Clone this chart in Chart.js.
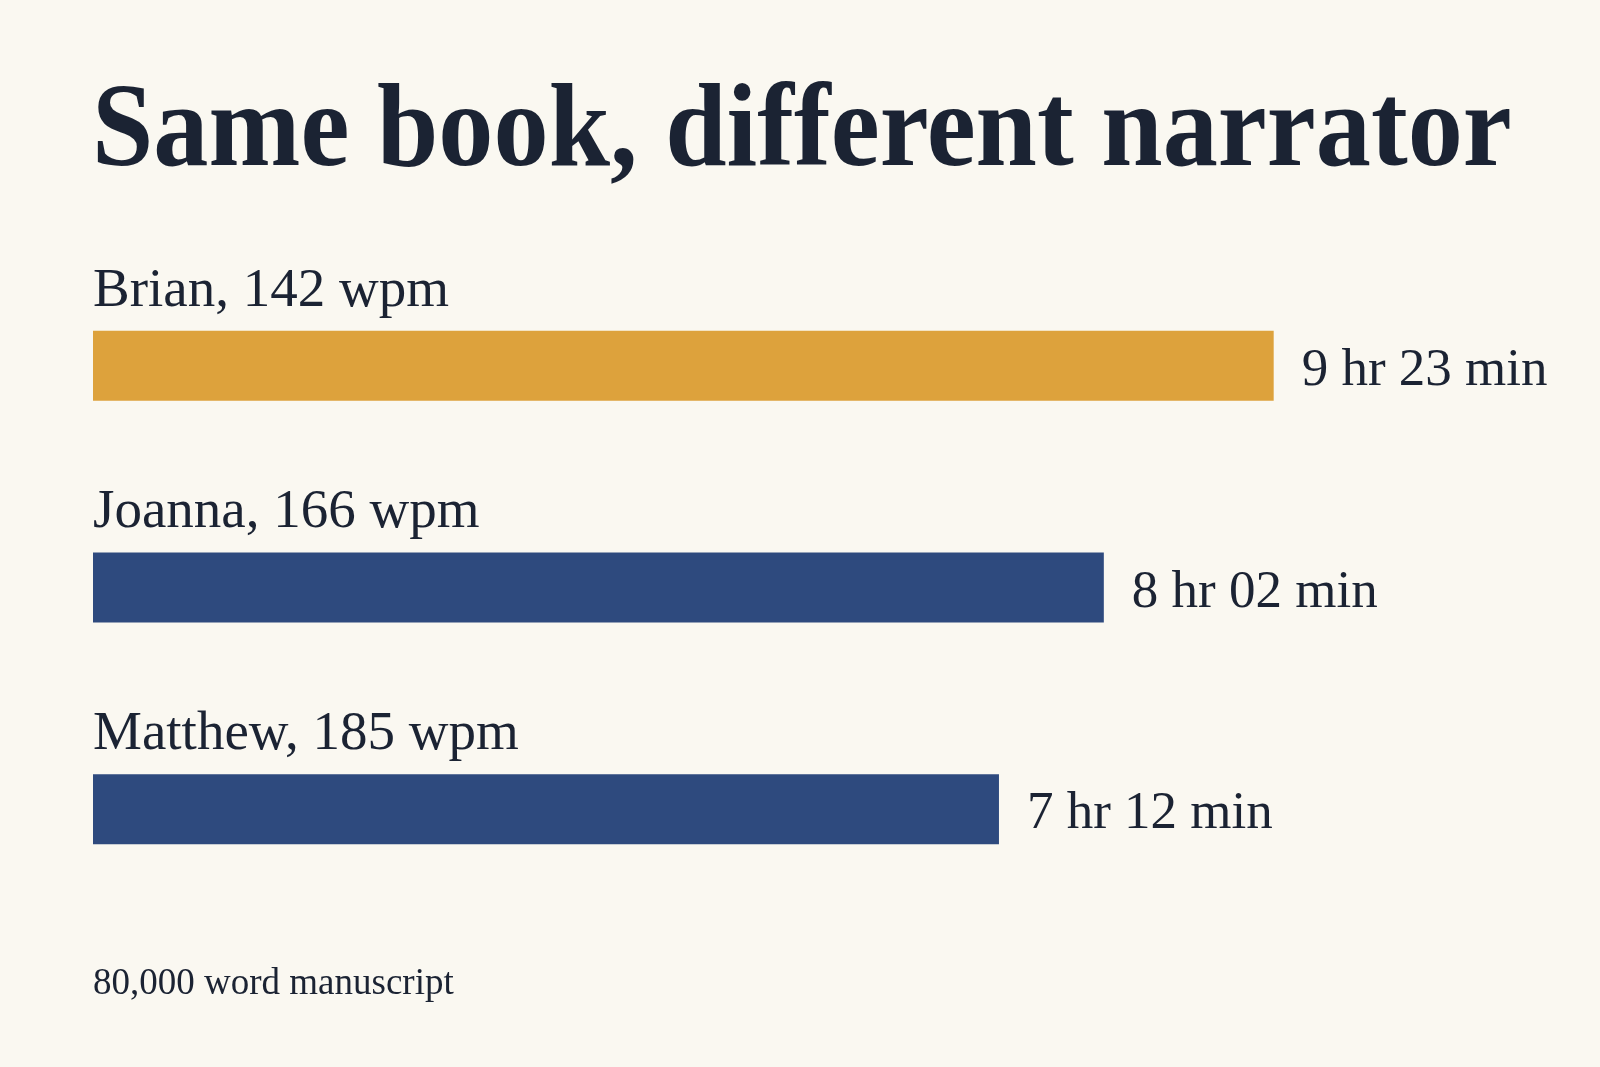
<!DOCTYPE html>
<html>
<head>
<meta charset="utf-8">
<script src="https://cdn.jsdelivr.net/npm/chart.js@4/dist/chart.umd.min.js"></script>
<style>
  html, body { margin: 0; padding: 0; background: #FAF8F1; }
  #wrap { position: relative; width: 1600px; height: 1067px; }
  canvas { display: block; }
</style>
</head>
<body>
<div id="wrap"><canvas id="c" width="1600" height="1067"></canvas></div>
<script>
// ---- data ----
const titleText = "Same book, different narrator";
const narrators = ["Brian", "Joanna", "Matthew"];
const wpm = [142, 166, 185];
const minutes = [563, 482, 432];           // 9h23, 8h02, 7h12
const durationLabels = ["9 hr 23 min", "8 hr 02 min", "7 hr 12 min"];
const footnote = "80,000 word manuscript";

const categoryLabels = narrators.map((n, i) => n + ", " + wpm[i] + " wpm");
const barColors = ["#DDA23C", "#2E4A7E", "#2E4A7E"];
const ink = "#1B2333";

const textPlugin = {
  id: "texts",
  afterDatasetsDraw(chart) {
    const ctx = chart.ctx;
    const meta = chart.getDatasetMeta(0);
    ctx.save();
    ctx.fillStyle = ink;
    ctx.textAlign = "left";
    ctx.textBaseline = "alphabetic";
    // title
    ctx.save();
    ctx.font = "bold 118px 'Liberation Serif', serif";
    ctx.translate(92, 165);
    ctx.scale(0.935, 1);
    ctx.fillText(titleText, 0, 0);
    ctx.restore();
    // category labels and values
    meta.data.forEach((bar, i) => {
      const top = bar.y - bar.height / 2;
      ctx.font = "55px 'Liberation Serif', serif";
      ctx.fillText(categoryLabels[i], bar.base, top - 25);
      ctx.font = "53px 'Liberation Serif', serif";
      ctx.fillText(durationLabels[i], bar.x + 28, bar.y + 19);
    });
    // footnote
    ctx.font = "37px 'Liberation Serif', serif";
    ctx.fillText(footnote, 93, 994);
    ctx.restore();
  }
};

new Chart(document.getElementById("c"), {
  type: "bar",
  data: {
    labels: categoryLabels,
    datasets: [{
      data: minutes,
      backgroundColor: barColors,
      borderWidth: 0,
      barPercentage: 1,
      categoryPercentage: 0.316
    }]
  },
  options: {
    indexAxis: "y",
    responsive: false,
    animation: false,
    devicePixelRatio: 1,
    layout: { padding: { left: 93, right: 39, top: 255, bottom: 147 } },
    scales: {
      x: { display: false, min: 0, max: 700 },
      y: { display: false }
    },
    plugins: {
      legend: { display: false },
      tooltip: { enabled: false },
      title: { display: false }
    }
  },
  plugins: [textPlugin]
});
</script>
</body>
</html>
